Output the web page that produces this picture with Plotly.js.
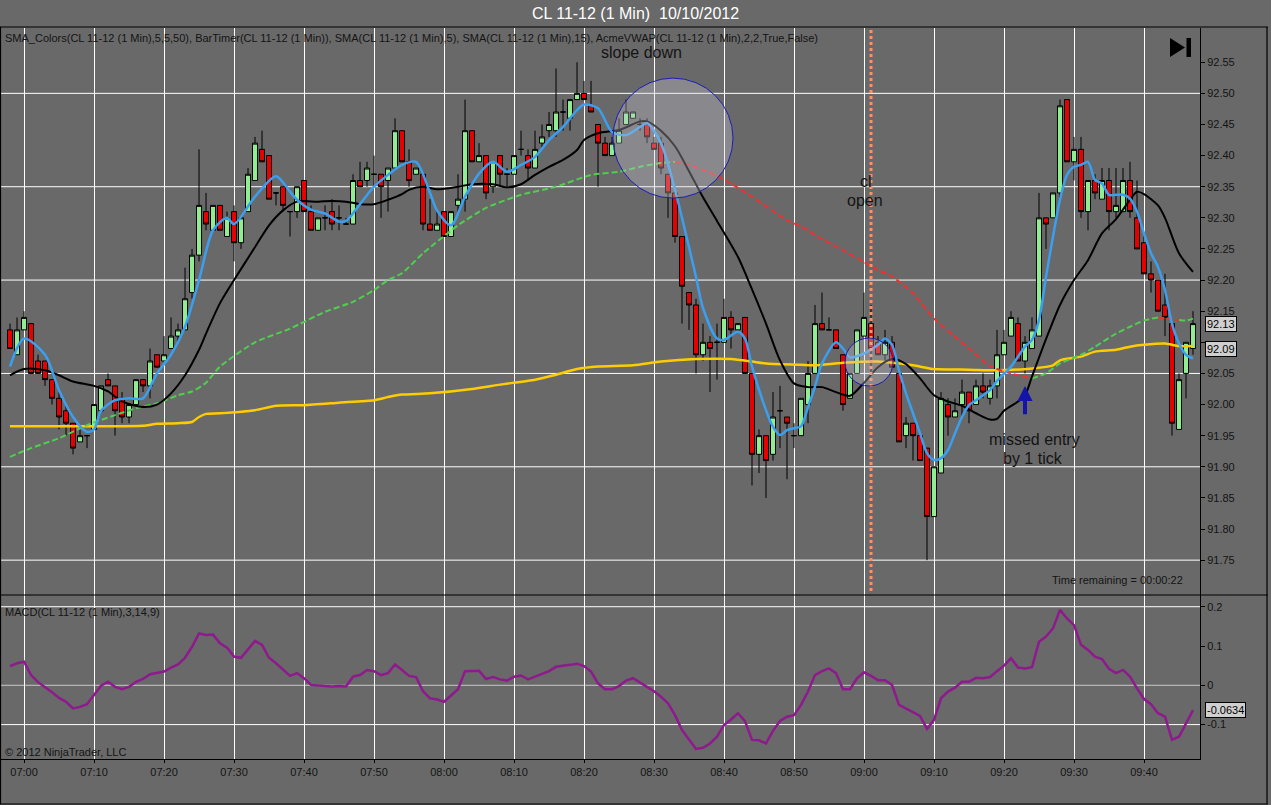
<!DOCTYPE html>
<html>
<head>
<meta charset="utf-8">
<script src="https://cdn.plot.ly/plotly-3.0.1.min.js"></script>
<style>html,body{margin:0;padding:0;background:#696969;}#chart{width:1271px;height:805px;}</style>
</head>
<body>
<div id="chart"></div>
<script>
// ---------- DATA (1-minute bars, 06:58 .. 09:47) ----------
const firstBar = '06:58';
const opens = [92.12,92.08,
 92.12,92.13,92.07,92.07,92.04,92.01,91.99,91.97,91.94,91.95,
 91.96,91.99,92.04,92.03,92.01,91.98,92.00,92.04,92.03,92.08,
 92.07,92.09,92.11,92.12,92.18,92.24,92.31,92.28,92.32,92.27,
 92.31,92.26,92.31,92.36,92.41,92.40,92.34,92.35,92.31,92.31,
 92.36,92.31,92.28,92.30,92.31,92.30,92.29,92.29,92.36,92.36,
 92.37,92.37,92.36,92.38,92.44,92.39,92.37,92.37,92.29,92.28,
 92.31,92.27,92.32,92.33,92.44,92.39,92.40,92.35,92.40,92.37,
 92.37,92.41,92.40,92.38,92.42,92.44,92.44,92.47,92.46,92.49,
 92.50,92.48,92.45,92.42,92.40,92.42,92.45,92.46,92.45,92.45,
 92.42,92.42,92.37,92.34,92.27,92.18,92.16,92.08,92.10,92.10,
 92.10,92.14,92.12,92.14,92.05,91.92,91.95,91.92,91.99,91.98,
 91.95,91.95,92.00,92.05,92.13,92.12,92.12,92.08,92.01,92.05,
 92.11,92.13,92.10,92.08,92.10,92.05,91.95,91.97,91.95,91.93,
 91.82,91.89,92.00,91.98,92.00,92.02,92.00,92.03,92.01,92.03,
 92.08,92.11,92.13,92.07,92.09,92.11,92.30,92.30,92.34,92.49,
 92.39,92.41,92.31,92.36,92.33,92.36,92.31,92.31,92.36,92.30,
 92.26,92.21,92.20,92.16,92.13,91.96,92.05,92.09];
const highs = [92.13,92.14,
 92.15,92.13,92.08,92.07,92.04,92.02,92.00,91.97,91.96,91.95,
 92.00,92.03,92.05,92.03,92.02,92.00,92.04,92.04,92.09,92.08,
 92.11,92.14,92.13,92.22,92.25,92.41,92.34,92.32,92.32,92.31,
 92.32,92.30,92.38,92.43,92.44,92.40,92.34,92.35,92.31,92.35,
 92.36,92.32,92.30,92.32,92.33,92.32,92.30,92.37,92.39,92.39,
 92.40,92.37,92.38,92.46,92.44,92.41,92.38,92.37,92.33,92.31,
 92.31,92.31,92.37,92.49,92.44,92.42,92.40,92.39,92.40,92.38,
 92.40,92.44,92.41,92.44,92.45,92.47,92.54,92.49,92.49,92.55,
 92.52,92.52,92.45,92.43,92.43,92.46,92.49,92.47,92.46,92.46,
 92.43,92.43,92.37,92.35,92.27,92.18,92.17,92.13,92.11,92.13,
 92.17,92.15,92.13,92.14,92.05,91.96,91.95,92.02,92.03,91.98,
 91.97,92.01,92.07,92.16,92.18,92.14,92.12,92.08,92.05,92.12,
 92.18,92.16,92.11,92.12,92.11,92.05,91.98,91.97,91.95,91.93,
 91.90,92.02,92.01,92.01,92.04,92.02,92.04,92.05,92.04,92.12,
 92.12,92.15,92.14,92.11,92.14,92.34,92.30,92.34,92.49,92.49,
 92.43,92.43,92.36,92.37,92.38,92.38,92.38,92.38,92.39,92.36,
 92.27,92.23,92.20,92.21,92.13,92.05,92.10,92.15];
const lows = [92.09,92.08,
 92.12,92.05,92.05,92.03,92.00,91.96,91.95,91.92,91.94,91.93,
 91.96,91.99,92.03,91.95,91.97,91.97,92.00,92.02,92.01,92.06,
 92.07,92.09,92.10,92.12,92.17,92.23,92.28,92.28,92.28,92.27,
 92.23,92.25,92.31,92.36,92.39,92.33,92.32,92.31,92.27,92.30,
 92.31,92.28,92.28,92.28,92.28,92.28,92.29,92.29,92.35,92.35,
 92.35,92.30,92.31,92.38,92.39,92.35,92.37,92.28,92.28,92.28,
 92.27,92.27,92.31,92.31,92.39,92.39,92.33,92.34,92.35,92.35,
 92.37,92.40,92.36,92.38,92.41,92.43,92.43,92.44,92.44,92.49,
 92.49,92.47,92.35,92.40,92.40,92.42,92.45,92.46,92.44,92.42,
 92.41,92.37,92.30,92.26,92.13,92.12,92.05,92.07,92.02,92.04,
 92.10,92.09,92.12,92.05,91.87,91.89,91.85,91.91,91.93,91.88,
 91.93,91.95,91.97,92.05,92.12,92.12,92.09,91.99,92.01,92.05,
 92.11,92.05,92.08,92.07,92.06,91.94,91.93,91.91,91.91,91.75,
 91.82,91.89,91.95,91.98,91.98,91.97,92.00,92.01,92.00,92.01,
 92.08,92.11,92.07,92.05,92.09,92.11,92.25,92.30,92.33,92.39,
 92.36,92.30,92.28,92.33,92.33,92.28,92.30,92.31,92.30,92.25,
 92.21,92.18,92.15,92.11,91.95,91.96,92.01,92.08];
const closes = [92.09,92.12,
 92.14,92.05,92.05,92.04,92.01,91.98,91.97,91.93,91.95,91.95,
 92.00,92.03,92.03,91.99,91.98,92.00,92.04,92.03,92.07,92.06,
 92.08,92.11,92.12,92.17,92.24,92.32,92.29,92.32,92.28,92.30,
 92.26,92.30,92.37,92.42,92.39,92.33,92.34,92.32,92.31,92.35,
 92.31,92.28,92.30,92.30,92.29,92.30,92.29,92.36,92.35,92.38,
 92.37,92.35,92.38,92.44,92.39,92.36,92.38,92.29,92.28,92.29,
 92.27,92.31,92.33,92.44,92.39,92.40,92.34,92.39,92.37,92.37,
 92.40,92.41,92.38,92.41,92.43,92.45,92.47,92.47,92.49,92.50,
 92.49,92.47,92.42,92.40,92.42,92.44,92.47,92.47,92.45,92.43,
 92.41,92.38,92.34,92.27,92.19,92.16,92.08,92.10,92.09,92.10,
 92.14,92.12,92.13,92.05,91.92,91.95,91.91,91.98,91.99,91.97,
 91.95,92.01,92.05,92.13,92.12,92.12,92.09,92.00,92.05,92.12,
 92.14,92.09,92.08,92.10,92.06,91.94,91.97,91.95,91.91,91.82,
 91.90,92.01,91.98,91.99,92.02,91.99,92.03,92.02,92.03,92.08,
 92.10,92.14,92.07,92.10,92.12,92.30,92.29,92.34,92.48,92.39,
 92.41,92.31,92.36,92.34,92.36,92.31,92.32,92.36,92.31,92.25,
 92.21,92.20,92.15,92.14,91.97,92.04,92.10,92.13];
const macdVals = [0.049,0.056,
 0.060,0.026,0.008,-0.004,-0.018,-0.032,-0.042,-0.059,-0.055,-0.048,
 -0.025,-0.001,0.009,-0.004,-0.010,-0.004,0.009,0.016,0.028,0.031,
 0.035,0.045,0.053,0.070,0.098,0.132,0.128,0.129,0.107,0.096,
 0.073,0.070,0.092,0.113,0.103,0.070,0.056,0.039,0.024,0.031,
 0.018,0.001,-0.001,-0.002,-0.003,-0.002,-0.003,0.022,0.026,0.039,
 0.036,0.026,0.031,0.053,0.039,0.024,0.021,-0.015,-0.033,-0.036,
 -0.042,-0.025,-0.010,0.036,0.036,0.037,0.016,0.021,0.015,0.012,
 0.022,0.025,0.015,0.022,0.029,0.036,0.047,0.049,0.052,0.055,
 0.049,0.035,0.005,-0.010,-0.010,-0.002,0.012,0.018,0.008,-0.004,
 -0.015,-0.029,-0.046,-0.076,-0.114,-0.137,-0.162,-0.159,-0.148,-0.131,
 -0.101,-0.087,-0.071,-0.091,-0.139,-0.140,-0.148,-0.116,-0.091,-0.080,
 -0.076,-0.050,-0.016,0.026,0.036,0.043,0.031,-0.010,-0.010,0.018,
 0.033,0.024,0.013,0.013,0.001,-0.050,-0.059,-0.067,-0.078,-0.111,
 -0.088,-0.033,-0.016,-0.006,0.009,0.009,0.019,0.018,0.021,0.036,
 0.050,0.069,0.045,0.043,0.046,0.111,0.124,0.145,0.192,0.170,
 0.153,0.103,0.090,0.073,0.067,0.042,0.031,0.039,0.022,-0.008,
 -0.035,-0.048,-0.071,-0.080,-0.139,-0.131,-0.097,-0.0634];

// SMA(5) - blue
const sma5Times = ['06:58','07:00','07:03','07:05','07:07','07:09','07:10','07:11','07:13','07:15','07:17','07:19','07:21','07:23','07:25','07:27','07:29','07:30','07:33','07:36','07:38','07:39','07:41','07:43','07:45','07:46','07:48','07:50','07:52','07:54','07:56','07:58','07:59','08:01','08:03','08:05','08:07','08:09','08:11','08:13','08:15','08:17','08:19','08:20','08:22','08:24','08:26','08:28','08:29','08:31','08:33','08:34','08:36','08:37','08:39','08:40','08:42','08:43','08:44','08:46','08:47','08:48','08:49','08:50','08:51','08:52','08:53','08:54','08:56','08:57','08:58','09:00','09:02','09:03','09:04','09:05','09:06','09:07','09:08','09:09','09:10','09:11','09:12','09:13','09:14','09:15','09:16','09:17','09:18','09:19','09:21','09:23','09:24','09:25','09:26','09:27','09:28','09:29','09:30','09:31','09:32','09:33','09:34','09:35','09:36','09:37','09:38','09:39','09:40','09:41','09:42','09:43','09:44','09:45','09:46','09:47'];
const sma5Vals = [92.061,92.106,92.080,92.023,91.980,91.956,91.960,91.990,92.007,92.010,92.010,92.050,92.080,92.125,92.200,92.280,92.300,92.290,92.334,92.367,92.342,92.329,92.313,92.307,92.294,92.295,92.322,92.350,92.369,92.385,92.390,92.340,92.312,92.288,92.334,92.371,92.390,92.374,92.385,92.398,92.425,92.446,92.473,92.482,92.476,92.438,92.433,92.446,92.452,92.420,92.345,92.300,92.205,92.155,92.106,92.104,92.117,92.106,92.061,91.991,91.964,91.951,91.959,91.962,91.965,91.996,92.029,92.066,92.100,92.090,92.076,92.082,92.096,92.106,92.096,92.055,92.018,91.986,91.954,91.922,91.911,91.914,91.927,91.954,91.980,91.999,92.007,92.015,92.023,92.038,92.061,92.093,92.104,92.136,92.205,92.270,92.329,92.369,92.382,92.385,92.390,92.361,92.355,92.337,92.337,92.337,92.331,92.310,92.275,92.243,92.221,92.184,92.130,92.098,92.080,92.074];

// SMA(15) - black
const sma15Times = ['06:58','07:00','07:03','07:05','07:07','07:10','07:12','07:14','07:17','07:19','07:21','07:23','07:25','07:26','07:28','07:30','07:33','07:35','07:37','07:39','07:42','07:44','07:46','07:48','07:50','07:52','07:54','07:55','07:57','07:59','08:02','08:04','08:07','08:09','08:11','08:13','08:15','08:17','08:19','08:20','08:22','08:25','08:28','08:29','08:31','08:33','08:35','08:37','08:39','08:42','08:44','08:46','08:48','08:50','08:52','08:54','08:56','08:58','09:00','09:02','09:04','09:06','09:08','09:10','09:12','09:14','09:16','09:18','09:19','09:20','09:22','09:23','09:24','09:26','09:28','09:30','09:32','09:34','09:36','09:38','09:39','09:40','09:42','09:43','09:45','09:47'];
const sma15Vals = [92.047,92.057,92.055,92.047,92.037,92.030,92.021,92.005,91.996,92.000,92.018,92.047,92.088,92.114,92.163,92.200,92.253,92.288,92.312,92.326,92.326,92.327,92.326,92.322,92.322,92.329,92.338,92.345,92.350,92.346,92.350,92.354,92.354,92.349,92.354,92.369,92.382,92.393,92.409,92.425,92.436,92.441,92.455,92.455,92.440,92.415,92.375,92.333,92.295,92.237,92.185,92.130,92.071,92.034,92.028,92.028,92.020,92.014,92.035,92.060,92.073,92.065,92.042,92.015,92.005,91.998,91.986,91.976,91.977,91.990,92.005,92.015,92.045,92.105,92.160,92.200,92.232,92.275,92.298,92.329,92.342,92.338,92.320,92.300,92.243,92.213];

// SMA_Colors(50) - green when rising, red when falling
const sma50Times = ['06:58','07:01','07:05','07:09','07:13','07:16','07:19','07:22','07:24','07:26','07:28','07:33','07:38','07:43','07:47','07:50','07:52','07:54','07:57','08:02','08:06','08:11','08:16','08:21','08:25','08:28','08:31','08:33','08:35','08:37','08:39','08:41','08:44','08:47','08:49','08:51','08:54','08:57','09:00','09:02','09:04','09:07','09:10','09:13','09:15','09:18','09:21','09:24','09:26','09:28','09:31','09:33','09:36','09:38','09:40','09:42','09:43','09:44','09:45','09:46','09:47'];
const sma50Vals = [91.916,91.930,91.946,91.967,91.983,91.994,92.002,92.015,92.021,92.035,92.061,92.100,92.122,92.149,92.165,92.184,92.200,92.211,92.243,92.288,92.316,92.337,92.350,92.369,92.374,92.382,92.388,92.390,92.385,92.377,92.368,92.355,92.334,92.311,92.296,92.286,92.266,92.248,92.229,92.216,92.206,92.179,92.138,92.109,92.090,92.062,92.050,92.042,92.050,92.066,92.080,92.093,92.114,92.125,92.135,92.140,92.139,92.137,92.136,92.135,92.138];
const sma50Slope = ['u','u','u','u','u','u','u','u','u','u','u','u','u','u','u','u','u','u','u','u','u','u','u','u','u','u','u','d','d','d','d','d','d','d','d','d','d','d','d','d','d','d','d','d','d','d','d','u','u','u','u','u','u','u','u','d','d','d','u','u','u'];

// AcmeVWAP - yellow
const vwapTimes = ['06:58','07:10','07:17','07:19','07:22','07:24','07:25','07:26','07:28','07:33','07:36','07:40','07:45','07:50','07:52','07:54','07:58','08:04','08:08','08:13','08:16','08:19','08:22','08:27','08:31','08:36','08:41','08:44','08:46','08:51','08:53','08:57','09:02','09:07','09:10','09:15','09:19','09:24','09:27','09:28','09:31','09:33','09:36','09:38','09:40','09:43','09:45','09:47'];
const vwapVals = [91.965,91.965,91.966,91.969,91.970,91.972,91.980,91.985,91.986,91.991,91.998,91.999,92.003,92.007,92.012,92.016,92.018,92.025,92.032,92.040,92.048,92.057,92.061,92.063,92.069,92.073,92.073,92.069,92.066,92.064,92.063,92.067,92.069,92.063,92.057,92.056,92.055,92.058,92.063,92.071,92.077,92.085,92.088,92.093,92.096,92.098,92.094,92.094];

const priceTicks = [91.75,91.80,91.85,91.90,91.95,92.00,92.05,92.10,92.15,92.20,92.25,92.30,92.35,92.40,92.45,92.50,92.55];
const hiddenPriceTicks = [92.10];            // covered by the last-value box in the reference
const priceGrid = [91.75,91.90,92.05,92.20,92.35,92.50];
const macdTicks = [0.2,0.1,0,-0.1];
const macdTickText = ['0.2','0.1','0','-0.1'];
const lastPriceLabels = [92.13, 92.09];
const lastMacdLabel = -0.0634;
const openTime = '09:01';
const arrowTime = '09:23';

// ---------- BUILD ----------
const DAY = '2012-10-10 ';
const pad = n => String(n).padStart(2,'0');
function barTime(i){
  const [h0,m0] = firstBar.split(':').map(Number);
  const t = h0*60+m0+i;
  return DAY + pad(Math.floor(t/60)) + ':' + pad(t%60);
}
const T = s => DAY + s;
const barX = opens.map((_,i)=>barTime(i));

const FONT = 'Liberation Sans, Arial, sans-serif';
const TXT = '#141414';

const greenY = sma50Vals.map((v,i)=> (sma50Slope[i]==='u' || (i>0 && sma50Slope[i-1]==='u')) ? v : null);
const redY   = sma50Vals.map((v,i)=> (sma50Slope[i]==='d' || (i>0 && sma50Slope[i-1]==='d')) ? v : null);

const traces = [
  {type:'candlestick', x:barX, open:opens, high:highs, low:lows, close:closes, xaxis:'x', yaxis:'y',
   increasing:{line:{color:'#000000', width:1}, fillcolor:'#90ee90'},
   decreasing:{line:{color:'#000000', width:1}, fillcolor:'#e60000'},
   whiskerwidth:0, hoverinfo:'skip'},
  {type:'scatter', mode:'lines', x:vwapTimes.map(T), y:vwapVals, xaxis:'x', yaxis:'y',
   line:{color:'#ffcc00', width:2.5, shape:'spline', smoothing:0.6}, hoverinfo:'skip'},
  {type:'scatter', mode:'lines', x:sma50Times.map(T), y:greenY, xaxis:'x', yaxis:'y', connectgaps:false,
   line:{color:'#4fcf4f', width:2, dash:'6px,3px', shape:'spline', smoothing:0.6}, hoverinfo:'skip'},
  {type:'scatter', mode:'lines', x:sma50Times.map(T), y:redY, xaxis:'x', yaxis:'y', connectgaps:false,
   line:{color:'#f03030', width:2, dash:'6px,3px', shape:'spline', smoothing:0.6}, hoverinfo:'skip'},
  {type:'scatter', mode:'lines', x:sma15Times.map(T), y:sma15Vals, xaxis:'x', yaxis:'y',
   line:{color:'#000000', width:2, shape:'spline', smoothing:0.8}, hoverinfo:'skip'},
  {type:'scatter', mode:'lines', x:sma5Times.map(T), y:sma5Vals, xaxis:'x', yaxis:'y',
   line:{color:'#3a9ff0', width:2.5, shape:'spline', smoothing:0.8}, hoverinfo:'skip'},
  {type:'scatter', mode:'lines', x:barX, y:macdVals, xaxis:'x', yaxis:'y2',
   line:{color:'#8e1a8e', width:2.5}, hoverinfo:'skip'}
];

const W = 1200, H0 = 759, PH = 731;          // plot-area geometry (px)
const px = x => x / W;
const py = y => (H0 - y) / PH;
const split = py(595);

const shapes = [];
priceGrid.forEach(v => shapes.push({type:'line', xref:'paper', yref:'y', x0:0, x1:1, y0:v, y1:v, line:{color:'#ffffff', width:1}, layer:'below'}));
[[0.2,'#ffffff'],[0,'#c8c8c8'],[-0.1,'#ffffff']].forEach(([v,c]) => shapes.push({type:'line', xref:'paper', yref:'y2', x0:0, x1:1, y0:v, y1:v, line:{color:c, width:1}, layer:'below'}));
// frame lines
shapes.push({type:'line', xref:'paper', yref:'paper', x0:0, x1:px(1268), y0:split, y1:split, line:{color:'#000', width:1.2}});
shapes.push({type:'line', xref:'paper', yref:'paper', x0:0, x1:px(1268), y0:py(27), y1:py(27), line:{color:'#000', width:1.2}});
shapes.push({type:'line', xref:'paper', yref:'paper', x0:px(0.5), x1:px(0.5), y0:py(27), y1:py(804), line:{color:'#000', width:1.2}});
shapes.push({type:'line', xref:'paper', yref:'paper', x0:px(1267), x1:px(1267), y0:py(27), y1:py(804), line:{color:'#000', width:1.2}});
shapes.push({type:'line', xref:'paper', yref:'paper', x0:0, x1:px(1268), y0:py(804), y1:py(804), line:{color:'#000', width:1.2}});
// cl open dotted line
shapes.push({type:'line', xref:'x', yref:'paper', x0:T(openTime), x1:T(openTime), y0:py(591), y1:1, line:{color:'#ff9060', width:3, dash:'dot'}});
// circles
shapes.push({type:'circle', xref:'x', yref:'y', x0:T('08:24:08'), x1:T('08:41:17'), y0:92.3317, y1:92.5245,
  fillcolor:'rgba(200,200,215,0.33)', line:{color:'#1c1cb8', width:1}, layer:'above'});
shapes.push({type:'circle', xref:'x', yref:'y', x0:T('08:57:17'), x1:T('09:04:09'), y0:92.0297, y1:92.1068,
  fillcolor:'rgba(200,200,215,0.33)', line:{color:'#1c1cb8', width:1}, layer:'above'});
// play/end icon
shapes.push({type:'path', xref:'paper', yref:'paper',
  path:`M ${px(1170)} ${py(38)} L ${px(1170)} ${py(57)} L ${px(1185)} ${py(47.5)} Z`, fillcolor:'#000', line:{width:0}});
shapes.push({type:'rect', xref:'paper', yref:'paper', x0:px(1186.5), x1:px(1191), y0:py(57), y1:py(38), fillcolor:'#000', line:{width:0}});

const ann = (o) => Object.assign({showarrow:false, font:{family:FONT, size:11, color:TXT}}, o);
const annotations = [
  ann({xref:'paper', yref:'paper', x:px(3), y:py(38), xanchor:'left', yanchor:'middle',
       text:'SMA_Colors(CL 11-12 (1 Min),5,5,50), BarTimer(CL 11-12 (1 Min)), SMA(CL 11-12 (1 Min),5), SMA(CL 11-12 (1 Min),15), AcmeVWAP(CL 11-12 (1 Min),2,2,True,False)'}),
  ann({xref:'paper', yref:'paper', x:px(3), y:py(612), xanchor:'left', yanchor:'middle', text:'MACD(CL 11-12 (1 Min),3,14,9)'}),
  ann({xref:'paper', yref:'paper', x:px(3), y:py(752), xanchor:'left', yanchor:'middle', text:'© 2012 NinjaTrader, LLC'}),
  ann({xref:'paper', yref:'paper', x:px(1185), y:py(580), xanchor:'right', yanchor:'middle', text:'Time remaining = 00:00:22'}),
  ann({xref:'paper', yref:'paper', x:px(641), y:py(52), xanchor:'center', yanchor:'middle', text:'slope down', font:{family:FONT, size:16, color:TXT}}),
  ann({xref:'paper', yref:'paper', x:px(866), y:py(181), xanchor:'center', yanchor:'middle', text:'cl', font:{family:FONT, size:16, color:TXT}}),
  ann({xref:'paper', yref:'paper', x:px(865), y:py(200), xanchor:'center', yanchor:'middle', text:'open', font:{family:FONT, size:16, color:TXT}}),
  ann({xref:'paper', yref:'paper', x:px(1034), y:py(439), xanchor:'center', yanchor:'middle', text:'missed entry', font:{family:FONT, size:16, color:TXT}}),
  ann({xref:'paper', yref:'paper', x:px(1033), y:py(458), xanchor:'center', yanchor:'middle', text:'by 1 tick', font:{family:FONT, size:16, color:TXT}}),
  {xref:'x', yref:'y', x:T(arrowTime), y:92.030, axref:'x', ayref:'y', ax:T(arrowTime), ay:91.982, text:'',
   showarrow:true, arrowhead:2, arrowsize:0.75, arrowwidth:4, arrowcolor:'#1414a8'}
];
lastPriceLabels.forEach(v => annotations.push(ann({xref:'paper', yref:'y', x:1, xshift:5, y:v, xanchor:'left', yanchor:'middle',
  text:v.toFixed(2), bgcolor:'#cfcfcf', bordercolor:'#000', borderwidth:1, borderpad:1, font:{family:FONT, size:11, color:'#000'}})));
annotations.push(ann({xref:'paper', yref:'y2', x:1, xshift:5, y:lastMacdLabel, xanchor:'left', yanchor:'middle',
  text:String(lastMacdLabel), bgcolor:'#cfcfcf', bordercolor:'#000', borderwidth:1, borderpad:1, font:{family:FONT, size:11, color:'#000'}}));

const tickFont = {family:FONT, size:11, color:TXT};
const layout = {
  width:1271, height:805,
  paper_bgcolor:'#696969', plot_bgcolor:'#696969',
  margin:{l:0, r:71, t:28, b:46, pad:0},
  showlegend:false, hovermode:false,
  boxgap:0.2, boxgroupgap:0.1,
  title:{text:'CL 11-12 (1 Min)&nbsp; 10/10/2012', font:{family:FONT, size:16, color:'#ffffff'},
         x:0.5, xref:'container', xanchor:'center', y:1-13/805, yref:'container', yanchor:'middle'},
  xaxis:{type:'date', anchor:'y2', range:[T('06:56:34'), T('09:48:00')],
         tickformat:'%H:%M', tick0:T('07:00'), dtick:600000, ticks:'outside', ticklen:3, tickcolor:'#000',
         showgrid:true, gridcolor:'#ffffff', gridwidth:1, showline:true, linecolor:'#000', linewidth:1,
         zeroline:false, tickfont:tickFont, rangeslider:{visible:false}, fixedrange:true},
  yaxis:{domain:[split,1], anchor:'x', side:'right', range:[91.694, 92.605],
         tickmode:'array', tickvals:priceTicks,
         ticktext:priceTicks.map(v=> hiddenPriceTicks.includes(v) ? '' : v.toFixed(2)),
         showgrid:false, zeroline:false, ticks:'outside', ticklen:4, tickcolor:'#000',
         showline:true, linecolor:'#000', linewidth:1, tickfont:tickFont, fixedrange:true},
  yaxis2:{domain:[0,split], anchor:'x', side:'right', range:[-0.1876, 0.2298],
         tickmode:'array', tickvals:macdTicks, ticktext:macdTickText,
         showgrid:false, zeroline:false, ticks:'outside', ticklen:4, tickcolor:'#000',
         showline:true, linecolor:'#000', linewidth:1, tickfont:tickFont, fixedrange:true},
  shapes:shapes, annotations:annotations
};
Plotly.newPlot('chart', traces, layout, {staticPlot:true, displayModeBar:false});
</script>
</body>
</html>
